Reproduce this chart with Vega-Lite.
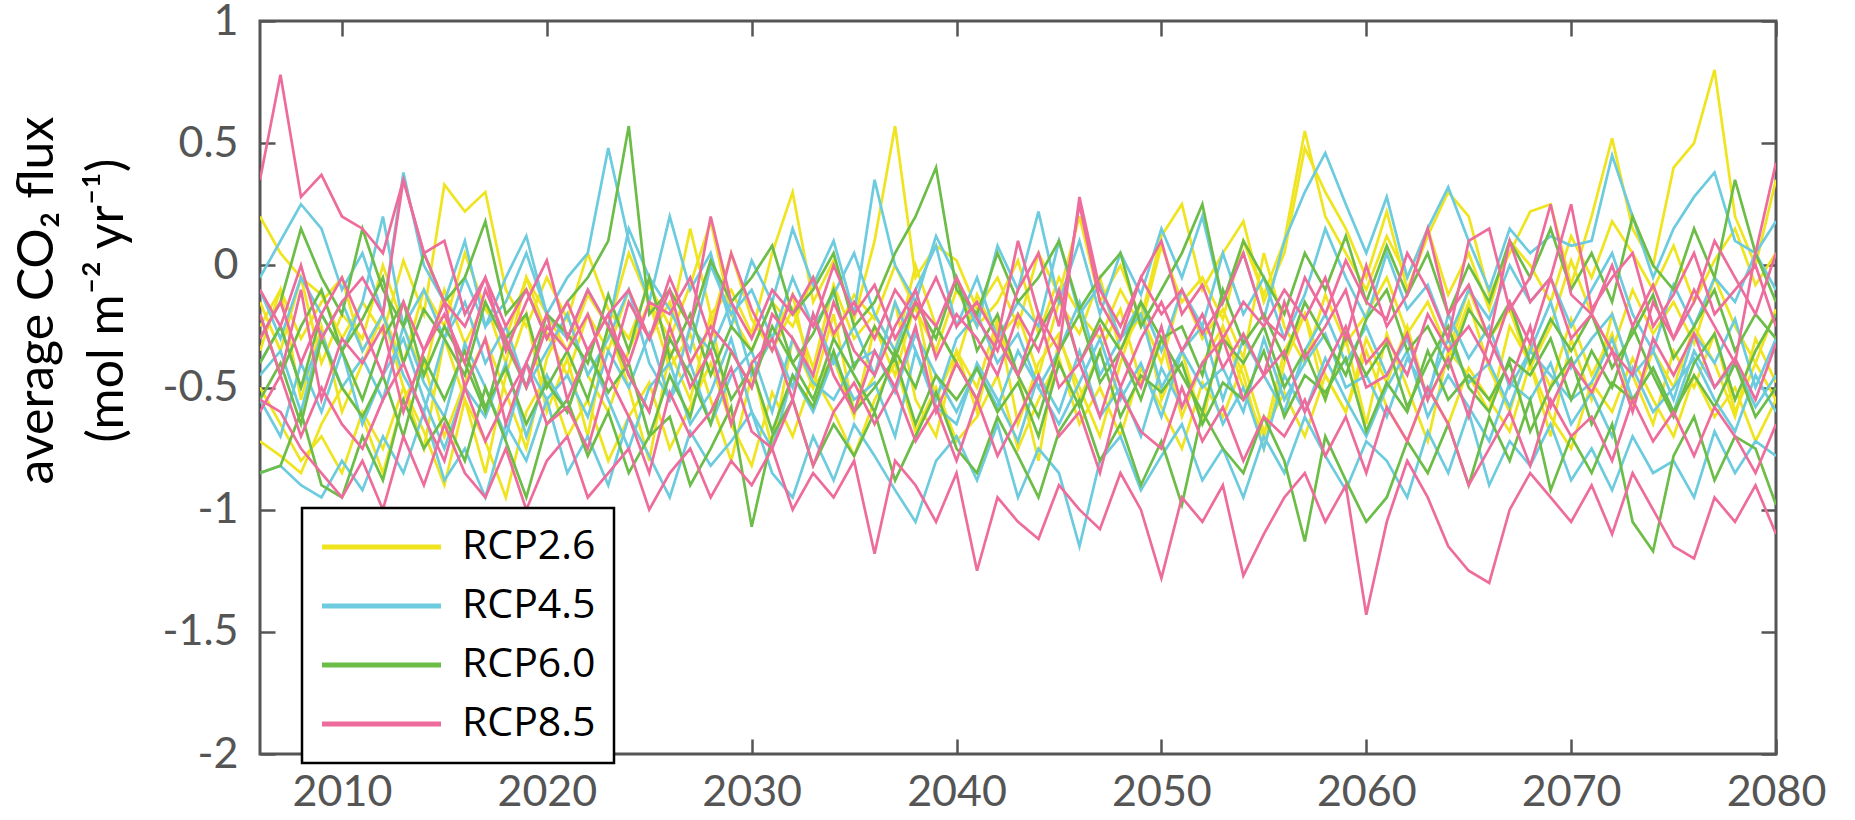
{
"$schema": "https://vega.github.io/schema/vega-lite/v6.json",
"width": 1516, "height": 733,
"autosize": {"type": "none"},
"padding": {"left": 260, "top": 21, "right": 79, "bottom": 66},
"background": "white",
"datasets": {
"rcp26": [
{"m":1,"x":2006,"y":0.20},{"m":1,"x":2007,"y":0.05},{"m":1,"x":2008,"y":-0.05},{"m":1,"x":2009,"y":-0.12},{"m":1,"x":2010,"y":-0.30},
{"m":1,"x":2011,"y":-0.15},{"m":1,"x":2012,"y":-0.28},{"m":1,"x":2013,"y":0.02},{"m":1,"x":2014,"y":-0.20},{"m":1,"x":2015,"y":0.33},
{"m":1,"x":2016,"y":0.22},{"m":1,"x":2017,"y":0.30},{"m":1,"x":2018,"y":-0.10},{"m":1,"x":2019,"y":-0.25},{"m":1,"x":2020,"y":-0.05},
{"m":1,"x":2021,"y":-0.22},{"m":1,"x":2022,"y":0.05},{"m":1,"x":2023,"y":-0.18},{"m":1,"x":2024,"y":-0.30},{"m":1,"x":2025,"y":-0.08},
{"m":1,"x":2026,"y":-0.25},{"m":1,"x":2027,"y":0.15},{"m":1,"x":2028,"y":-0.20},{"m":1,"x":2029,"y":-0.10},{"m":1,"x":2030,"y":-0.28},
{"m":1,"x":2031,"y":0.05},{"m":1,"x":2032,"y":0.30},{"m":1,"x":2033,"y":-0.15},{"m":1,"x":2034,"y":0.02},{"m":1,"x":2035,"y":-0.22},
{"m":1,"x":2036,"y":0.10},{"m":1,"x":2037,"y":0.57},{"m":1,"x":2038,"y":-0.05},{"m":1,"x":2039,"y":0.08},{"m":1,"x":2040,"y":0.02},
{"m":1,"x":2041,"y":-0.18},{"m":1,"x":2042,"y":-0.05},{"m":1,"x":2043,"y":-0.25},{"m":1,"x":2044,"y":0.05},{"m":1,"x":2045,"y":-0.12},
{"m":1,"x":2046,"y":0.20},{"m":1,"x":2047,"y":-0.15},{"m":1,"x":2048,"y":0.00},{"m":1,"x":2049,"y":-0.22},{"m":1,"x":2050,"y":0.12},
{"m":1,"x":2051,"y":0.25},{"m":1,"x":2052,"y":-0.10},{"m":1,"x":2053,"y":0.05},{"m":1,"x":2054,"y":0.18},{"m":1,"x":2055,"y":-0.15},
{"m":1,"x":2056,"y":0.05},{"m":1,"x":2057,"y":0.48},{"m":1,"x":2058,"y":0.30},{"m":1,"x":2059,"y":0.15},{"m":1,"x":2060,"y":-0.05},
{"m":1,"x":2061,"y":0.22},{"m":1,"x":2062,"y":-0.10},{"m":1,"x":2063,"y":0.12},{"m":1,"x":2064,"y":0.30},{"m":1,"x":2065,"y":0.20},
{"m":1,"x":2066,"y":-0.12},{"m":1,"x":2067,"y":0.05},{"m":1,"x":2068,"y":0.22},{"m":1,"x":2069,"y":0.25},{"m":1,"x":2070,"y":-0.08},
{"m":1,"x":2071,"y":0.20},{"m":1,"x":2072,"y":0.52},{"m":1,"x":2073,"y":0.15},{"m":1,"x":2074,"y":0.00},{"m":1,"x":2075,"y":0.40},
{"m":1,"x":2076,"y":0.50},{"m":1,"x":2077,"y":0.80},{"m":1,"x":2078,"y":0.20},{"m":1,"x":2079,"y":0.00},{"m":1,"x":2080,"y":0.35},
{"m":2,"x":2006,"y":-0.72},{"m":2,"x":2007,"y":-0.78},{"m":2,"x":2008,"y":-0.85},{"m":2,"x":2009,"y":-0.65},{"m":2,"x":2010,"y":-0.50},
{"m":2,"x":2011,"y":-0.62},{"m":2,"x":2012,"y":-0.85},{"m":2,"x":2013,"y":-0.55},{"m":2,"x":2014,"y":-0.40},{"m":2,"x":2015,"y":-0.70},
{"m":2,"x":2016,"y":-0.48},{"m":2,"x":2017,"y":-0.30},{"m":2,"x":2018,"y":-0.52},{"m":2,"x":2019,"y":-0.75},{"m":2,"x":2020,"y":-0.38},
{"m":2,"x":2021,"y":-0.20},{"m":2,"x":2022,"y":-0.45},{"m":2,"x":2023,"y":-0.60},{"m":2,"x":2024,"y":-0.35},{"m":2,"x":2025,"y":-0.15},
{"m":2,"x":2026,"y":-0.42},{"m":2,"x":2027,"y":-0.28},{"m":2,"x":2028,"y":-0.55},{"m":2,"x":2029,"y":-0.80},{"m":2,"x":2030,"y":-0.45},
{"m":2,"x":2031,"y":-0.30},{"m":2,"x":2032,"y":-0.12},{"m":2,"x":2033,"y":-0.50},{"m":2,"x":2034,"y":-0.38},{"m":2,"x":2035,"y":-0.62},
{"m":2,"x":2036,"y":-0.25},{"m":2,"x":2037,"y":-0.45},{"m":2,"x":2038,"y":-0.15},{"m":2,"x":2039,"y":-0.55},{"m":2,"x":2040,"y":-0.35},
{"m":2,"x":2041,"y":-0.50},{"m":2,"x":2042,"y":-0.22},{"m":2,"x":2043,"y":-0.65},{"m":2,"x":2044,"y":-0.40},{"m":2,"x":2045,"y":-0.28},
{"m":2,"x":2046,"y":-0.55},{"m":2,"x":2047,"y":-0.35},{"m":2,"x":2048,"y":-0.18},{"m":2,"x":2049,"y":-0.48},{"m":2,"x":2050,"y":-0.30},
{"m":2,"x":2051,"y":-0.62},{"m":2,"x":2052,"y":-0.40},{"m":2,"x":2053,"y":-0.25},{"m":2,"x":2054,"y":-0.50},{"m":2,"x":2055,"y":-0.70},
{"m":2,"x":2056,"y":-0.35},{"m":2,"x":2057,"y":-0.20},{"m":2,"x":2058,"y":-0.45},{"m":2,"x":2059,"y":-0.60},{"m":2,"x":2060,"y":-0.30},
{"m":2,"x":2061,"y":-0.48},{"m":2,"x":2062,"y":-0.25},{"m":2,"x":2063,"y":-0.55},{"m":2,"x":2064,"y":-0.38},{"m":2,"x":2065,"y":-0.15},
{"m":2,"x":2066,"y":-0.42},{"m":2,"x":2067,"y":-0.60},{"m":2,"x":2068,"y":-0.32},{"m":2,"x":2069,"y":-0.50},{"m":2,"x":2070,"y":-0.22},
{"m":2,"x":2071,"y":-0.45},{"m":2,"x":2072,"y":-0.28},{"m":2,"x":2073,"y":-0.58},{"m":2,"x":2074,"y":-0.35},{"m":2,"x":2075,"y":-0.50},
{"m":2,"x":2076,"y":-0.25},{"m":2,"x":2077,"y":-0.40},{"m":2,"x":2078,"y":-0.62},{"m":2,"x":2079,"y":-0.30},{"m":2,"x":2080,"y":-0.48},
{"m":3,"x":2006,"y":-0.35},{"m":3,"x":2007,"y":-0.10},{"m":3,"x":2008,"y":-0.55},{"m":3,"x":2009,"y":-0.25},{"m":3,"x":2010,"y":-0.60},
{"m":3,"x":2011,"y":-0.40},{"m":3,"x":2012,"y":-0.20},{"m":3,"x":2013,"y":-0.50},{"m":3,"x":2014,"y":-0.75},{"m":3,"x":2015,"y":-0.30},
{"m":3,"x":2016,"y":-0.55},{"m":3,"x":2017,"y":-0.85},{"m":3,"x":2018,"y":-0.45},{"m":3,"x":2019,"y":-0.20},{"m":3,"x":2020,"y":-0.60},
{"m":3,"x":2021,"y":-0.38},{"m":3,"x":2022,"y":-0.70},{"m":3,"x":2023,"y":-0.25},{"m":3,"x":2024,"y":-0.50},{"m":3,"x":2025,"y":-0.80},
{"m":3,"x":2026,"y":-0.35},{"m":3,"x":2027,"y":-0.55},{"m":3,"x":2028,"y":-0.20},{"m":3,"x":2029,"y":-0.65},{"m":3,"x":2030,"y":-0.40},
{"m":3,"x":2031,"y":-0.75},{"m":3,"x":2032,"y":-0.30},{"m":3,"x":2033,"y":-0.50},{"m":3,"x":2034,"y":-0.20},{"m":3,"x":2035,"y":-0.60},
{"m":3,"x":2036,"y":-0.45},{"m":3,"x":2037,"y":-0.15},{"m":3,"x":2038,"y":-0.55},{"m":3,"x":2039,"y":-0.70},{"m":3,"x":2040,"y":-0.35},
{"m":3,"x":2041,"y":-0.60},{"m":3,"x":2042,"y":-0.25},{"m":3,"x":2043,"y":-0.45},{"m":3,"x":2044,"y":-0.80},{"m":3,"x":2045,"y":-0.30},
{"m":3,"x":2046,"y":-0.50},{"m":3,"x":2047,"y":-0.70},{"m":3,"x":2048,"y":-0.40},{"m":3,"x":2049,"y":-0.15},{"m":3,"x":2050,"y":-0.55},
{"m":3,"x":2051,"y":-0.35},{"m":3,"x":2052,"y":-0.65},{"m":3,"x":2053,"y":-0.25},{"m":3,"x":2054,"y":-0.45},{"m":3,"x":2055,"y":-0.75},
{"m":3,"x":2056,"y":-0.40},{"m":3,"x":2057,"y":-0.20},{"m":3,"x":2058,"y":-0.55},{"m":3,"x":2059,"y":-0.30},{"m":3,"x":2060,"y":-0.65},
{"m":3,"x":2061,"y":-0.28},{"m":3,"x":2062,"y":-0.50},{"m":3,"x":2063,"y":-0.72},{"m":3,"x":2064,"y":-0.35},{"m":3,"x":2065,"y":-0.45},
{"m":3,"x":2066,"y":-0.60},{"m":3,"x":2067,"y":-0.25},{"m":3,"x":2068,"y":-0.40},{"m":3,"x":2069,"y":-0.70},{"m":3,"x":2070,"y":-0.30},
{"m":3,"x":2071,"y":-0.55},{"m":3,"x":2072,"y":-0.20},{"m":3,"x":2073,"y":-0.45},{"m":3,"x":2074,"y":-0.65},{"m":3,"x":2075,"y":-0.35},
{"m":3,"x":2076,"y":-0.50},{"m":3,"x":2077,"y":-0.28},{"m":3,"x":2078,"y":-0.60},{"m":3,"x":2079,"y":-0.40},{"m":3,"x":2080,"y":-0.55},
{"m":4,"x":2006,"y":-0.15},{"m":4,"x":2007,"y":-0.35},{"m":4,"x":2008,"y":-0.05},{"m":4,"x":2009,"y":-0.40},{"m":4,"x":2010,"y":-0.20},
{"m":4,"x":2011,"y":-0.30},{"m":4,"x":2012,"y":0.00},{"m":4,"x":2013,"y":-0.25},{"m":4,"x":2014,"y":-0.45},{"m":4,"x":2015,"y":-0.10},
{"m":4,"x":2016,"y":-0.32},{"m":4,"x":2017,"y":-0.15},{"m":4,"x":2018,"y":-0.40},{"m":4,"x":2019,"y":-0.05},{"m":4,"x":2020,"y":-0.28},
{"m":4,"x":2021,"y":-0.45},{"m":4,"x":2022,"y":-0.20},{"m":4,"x":2023,"y":-0.35},{"m":4,"x":2024,"y":-0.10},{"m":4,"x":2025,"y":-0.30},
{"m":4,"x":2026,"y":-0.15},{"m":4,"x":2027,"y":-0.40},{"m":4,"x":2028,"y":-0.25},{"m":4,"x":2029,"y":0.05},{"m":4,"x":2030,"y":-0.22},
{"m":4,"x":2031,"y":-0.35},{"m":4,"x":2032,"y":-0.18},{"m":4,"x":2033,"y":-0.42},{"m":4,"x":2034,"y":-0.08},{"m":4,"x":2035,"y":-0.30},
{"m":4,"x":2036,"y":-0.20},{"m":4,"x":2037,"y":-0.35},{"m":4,"x":2038,"y":0.00},{"m":4,"x":2039,"y":-0.25},{"m":4,"x":2040,"y":-0.40},
{"m":4,"x":2041,"y":-0.12},{"m":4,"x":2042,"y":-0.30},{"m":4,"x":2043,"y":-0.20},{"m":4,"x":2044,"y":-0.45},{"m":4,"x":2045,"y":-0.15},
{"m":4,"x":2046,"y":-0.28},{"m":4,"x":2047,"y":-0.05},{"m":4,"x":2048,"y":-0.35},{"m":4,"x":2049,"y":-0.20},{"m":4,"x":2050,"y":-0.40},
{"m":4,"x":2051,"y":-0.10},{"m":4,"x":2052,"y":-0.30},{"m":4,"x":2053,"y":-0.18},{"m":4,"x":2054,"y":-0.38},{"m":4,"x":2055,"y":0.05},
{"m":4,"x":2056,"y":-0.25},{"m":4,"x":2057,"y":-0.40},{"m":4,"x":2058,"y":-0.12},{"m":4,"x":2059,"y":-0.32},{"m":4,"x":2060,"y":-0.20},
{"m":4,"x":2061,"y":-0.05},{"m":4,"x":2062,"y":-0.28},{"m":4,"x":2063,"y":-0.15},{"m":4,"x":2064,"y":-0.35},{"m":4,"x":2065,"y":-0.10},
{"m":4,"x":2066,"y":-0.30},{"m":4,"x":2067,"y":-0.18},{"m":4,"x":2068,"y":-0.42},{"m":4,"x":2069,"y":-0.25},{"m":4,"x":2070,"y":0.02},
{"m":4,"x":2071,"y":-0.20},{"m":4,"x":2072,"y":-0.35},{"m":4,"x":2073,"y":-0.10},{"m":4,"x":2074,"y":-0.28},{"m":4,"x":2075,"y":-0.15},
{"m":4,"x":2076,"y":-0.32},{"m":4,"x":2077,"y":-0.05},{"m":4,"x":2078,"y":-0.25},{"m":4,"x":2079,"y":-0.40},{"m":4,"x":2080,"y":-0.18},
{"m":5,"x":2006,"y":-0.50},{"m":5,"x":2007,"y":-0.65},{"m":5,"x":2008,"y":-0.80},{"m":5,"x":2009,"y":-0.70},{"m":5,"x":2010,"y":-0.85},
{"m":5,"x":2011,"y":-0.60},{"m":5,"x":2012,"y":-0.75},{"m":5,"x":2013,"y":-0.50},{"m":5,"x":2014,"y":-0.68},{"m":5,"x":2015,"y":-0.90},
{"m":5,"x":2016,"y":-0.55},{"m":5,"x":2017,"y":-0.72},{"m":5,"x":2018,"y":-0.95},{"m":5,"x":2019,"y":-0.60},{"m":5,"x":2020,"y":-0.45},
{"m":5,"x":2021,"y":-0.70},{"m":5,"x":2022,"y":-0.55},{"m":5,"x":2023,"y":-0.80},{"m":5,"x":2024,"y":-0.62},{"m":5,"x":2025,"y":-0.48},
{"m":5,"x":2026,"y":-0.75},{"m":5,"x":2027,"y":-0.58},{"m":5,"x":2028,"y":-0.40},{"m":5,"x":2029,"y":-0.65},{"m":5,"x":2030,"y":-0.82},
{"m":5,"x":2031,"y":-0.52},{"m":5,"x":2032,"y":-0.70},{"m":5,"x":2033,"y":-0.45},{"m":5,"x":2034,"y":-0.60},{"m":5,"x":2035,"y":-0.78},
{"m":5,"x":2036,"y":-0.55},{"m":5,"x":2037,"y":-0.40},{"m":5,"x":2038,"y":-0.68},{"m":5,"x":2039,"y":-0.50},{"m":5,"x":2040,"y":-0.72},
{"m":5,"x":2041,"y":-0.62},{"m":5,"x":2042,"y":-0.45},{"m":5,"x":2043,"y":-0.75},{"m":5,"x":2044,"y":-0.55},{"m":5,"x":2045,"y":-0.38},
{"m":5,"x":2046,"y":-0.65},{"m":5,"x":2047,"y":-0.50},{"m":5,"x":2048,"y":-0.70},{"m":5,"x":2049,"y":-0.42},{"m":5,"x":2050,"y":-0.58},
{"m":5,"x":2051,"y":-0.75},{"m":5,"x":2052,"y":-0.48},{"m":5,"x":2053,"y":-0.62},{"m":5,"x":2054,"y":-0.40},{"m":5,"x":2055,"y":-0.68},
{"m":5,"x":2056,"y":-0.52},{"m":5,"x":2057,"y":-0.70},{"m":5,"x":2058,"y":-0.45},{"m":5,"x":2059,"y":-0.60},{"m":5,"x":2060,"y":-0.35},
{"m":5,"x":2061,"y":-0.58},{"m":5,"x":2062,"y":-0.72},{"m":5,"x":2063,"y":-0.50},{"m":5,"x":2064,"y":-0.65},{"m":5,"x":2065,"y":-0.42},
{"m":5,"x":2066,"y":-0.55},{"m":5,"x":2067,"y":-0.68},{"m":5,"x":2068,"y":-0.40},{"m":5,"x":2069,"y":-0.62},{"m":5,"x":2070,"y":-0.75},
{"m":5,"x":2071,"y":-0.48},{"m":5,"x":2072,"y":-0.60},{"m":5,"x":2073,"y":-0.38},{"m":5,"x":2074,"y":-0.55},{"m":5,"x":2075,"y":-0.70},
{"m":5,"x":2076,"y":-0.45},{"m":5,"x":2077,"y":-0.62},{"m":5,"x":2078,"y":-0.50},{"m":5,"x":2079,"y":-0.72},{"m":5,"x":2080,"y":-0.55},
{"m":6,"x":2006,"y":-0.25},{"m":6,"x":2007,"y":-0.10},{"m":6,"x":2008,"y":-0.30},{"m":6,"x":2009,"y":-0.15},{"m":6,"x":2010,"y":-0.05},
{"m":6,"x":2011,"y":-0.35},{"m":6,"x":2012,"y":-0.20},{"m":6,"x":2013,"y":-0.40},{"m":6,"x":2014,"y":-0.10},{"m":6,"x":2015,"y":-0.25},
{"m":6,"x":2016,"y":0.05},{"m":6,"x":2017,"y":-0.18},{"m":6,"x":2018,"y":-0.30},{"m":6,"x":2019,"y":-0.05},{"m":6,"x":2020,"y":-0.20},
{"m":6,"x":2021,"y":-0.35},{"m":6,"x":2022,"y":-0.12},{"m":6,"x":2023,"y":-0.25},{"m":6,"x":2024,"y":0.05},{"m":6,"x":2025,"y":-0.15},
{"m":6,"x":2026,"y":-0.30},{"m":6,"x":2027,"y":-0.08},{"m":6,"x":2028,"y":0.18},{"m":6,"x":2029,"y":-0.20},{"m":6,"x":2030,"y":-0.35},
{"m":6,"x":2031,"y":-0.15},{"m":6,"x":2032,"y":-0.25},{"m":6,"x":2033,"y":-0.05},{"m":6,"x":2034,"y":-0.30},{"m":6,"x":2035,"y":-0.12},
{"m":6,"x":2036,"y":-0.22},{"m":6,"x":2037,"y":0.00},{"m":6,"x":2038,"y":-0.18},{"m":6,"x":2039,"y":-0.35},{"m":6,"x":2040,"y":-0.10},
{"m":6,"x":2041,"y":-0.25},{"m":6,"x":2042,"y":-0.15},{"m":6,"x":2043,"y":0.02},{"m":6,"x":2044,"y":-0.28},{"m":6,"x":2045,"y":-0.05},
{"m":6,"x":2046,"y":-0.20},{"m":6,"x":2047,"y":-0.30},{"m":6,"x":2048,"y":-0.10},{"m":6,"x":2049,"y":-0.25},{"m":6,"x":2050,"y":0.08},
{"m":6,"x":2051,"y":-0.15},{"m":6,"x":2052,"y":-0.05},{"m":6,"x":2053,"y":-0.22},{"m":6,"x":2054,"y":0.10},{"m":6,"x":2055,"y":-0.12},
{"m":6,"x":2056,"y":0.10},{"m":6,"x":2057,"y":0.55},{"m":6,"x":2058,"y":0.20},{"m":6,"x":2059,"y":0.05},{"m":6,"x":2060,"y":-0.10},
{"m":6,"x":2061,"y":0.12},{"m":6,"x":2062,"y":-0.05},{"m":6,"x":2063,"y":0.15},{"m":6,"x":2064,"y":-0.12},{"m":6,"x":2065,"y":0.05},
{"m":6,"x":2066,"y":-0.18},{"m":6,"x":2067,"y":0.10},{"m":6,"x":2068,"y":0.00},{"m":6,"x":2069,"y":-0.15},{"m":6,"x":2070,"y":0.12},
{"m":6,"x":2071,"y":-0.05},{"m":6,"x":2072,"y":0.18},{"m":6,"x":2073,"y":0.05},{"m":6,"x":2074,"y":-0.10},{"m":6,"x":2075,"y":0.08},
{"m":6,"x":2076,"y":-0.15},{"m":6,"x":2077,"y":0.02},{"m":6,"x":2078,"y":0.15},{"m":6,"x":2079,"y":-0.08},{"m":6,"x":2080,"y":0.05}
],
"rcp45": [
{"m":1,"x":2006,"y":-0.05},{"m":1,"x":2007,"y":0.10},{"m":1,"x":2008,"y":0.25},{"m":1,"x":2009,"y":0.15},{"m":1,"x":2010,"y":-0.10},
{"m":1,"x":2011,"y":0.05},{"m":1,"x":2012,"y":-0.20},{"m":1,"x":2013,"y":0.38},{"m":1,"x":2014,"y":0.00},{"m":1,"x":2015,"y":-0.15},
{"m":1,"x":2016,"y":0.10},{"m":1,"x":2017,"y":-0.25},{"m":1,"x":2018,"y":-0.05},{"m":1,"x":2019,"y":0.12},{"m":1,"x":2020,"y":-0.20},
{"m":1,"x":2021,"y":-0.05},{"m":1,"x":2022,"y":0.05},{"m":1,"x":2023,"y":0.48},{"m":1,"x":2024,"y":0.10},{"m":1,"x":2025,"y":-0.15},
{"m":1,"x":2026,"y":0.20},{"m":1,"x":2027,"y":-0.10},{"m":1,"x":2028,"y":0.05},{"m":1,"x":2029,"y":-0.25},{"m":1,"x":2030,"y":0.02},
{"m":1,"x":2031,"y":-0.15},{"m":1,"x":2032,"y":0.15},{"m":1,"x":2033,"y":-0.08},{"m":1,"x":2034,"y":0.10},{"m":1,"x":2035,"y":-0.20},
{"m":1,"x":2036,"y":0.35},{"m":1,"x":2037,"y":0.00},{"m":1,"x":2038,"y":-0.15},{"m":1,"x":2039,"y":0.12},{"m":1,"x":2040,"y":-0.05},
{"m":1,"x":2041,"y":-0.25},{"m":1,"x":2042,"y":0.08},{"m":1,"x":2043,"y":-0.10},{"m":1,"x":2044,"y":0.22},{"m":1,"x":2045,"y":-0.15},
{"m":1,"x":2046,"y":0.10},{"m":1,"x":2047,"y":-0.20},{"m":1,"x":2048,"y":0.05},{"m":1,"x":2049,"y":-0.12},{"m":1,"x":2050,"y":0.15},
{"m":1,"x":2051,"y":-0.05},{"m":1,"x":2052,"y":0.20},{"m":1,"x":2053,"y":-0.15},{"m":1,"x":2054,"y":0.05},{"m":1,"x":2055,"y":-0.22},
{"m":1,"x":2056,"y":0.10},{"m":1,"x":2057,"y":0.30},{"m":1,"x":2058,"y":0.46},{"m":1,"x":2059,"y":0.25},{"m":1,"x":2060,"y":0.05},
{"m":1,"x":2061,"y":0.28},{"m":1,"x":2062,"y":-0.05},{"m":1,"x":2063,"y":0.15},{"m":1,"x":2064,"y":0.32},{"m":1,"x":2065,"y":0.10},
{"m":1,"x":2066,"y":-0.10},{"m":1,"x":2067,"y":0.15},{"m":1,"x":2068,"y":0.05},{"m":1,"x":2069,"y":0.12},{"m":1,"x":2070,"y":0.08},
{"m":1,"x":2071,"y":0.10},{"m":1,"x":2072,"y":0.45},{"m":1,"x":2073,"y":0.20},{"m":1,"x":2074,"y":-0.05},{"m":1,"x":2075,"y":0.15},
{"m":1,"x":2076,"y":0.28},{"m":1,"x":2077,"y":0.38},{"m":1,"x":2078,"y":0.10},{"m":1,"x":2079,"y":0.05},{"m":1,"x":2080,"y":0.18},
{"m":2,"x":2006,"y":-0.40},{"m":2,"x":2007,"y":-0.25},{"m":2,"x":2008,"y":-0.50},{"m":2,"x":2009,"y":-0.30},{"m":2,"x":2010,"y":-0.15},
{"m":2,"x":2011,"y":-0.35},{"m":2,"x":2012,"y":-0.20},{"m":2,"x":2013,"y":-0.45},{"m":2,"x":2014,"y":-0.60},{"m":2,"x":2015,"y":-0.30},
{"m":2,"x":2016,"y":-0.15},{"m":2,"x":2017,"y":-0.40},{"m":2,"x":2018,"y":-0.25},{"m":2,"x":2019,"y":-0.50},{"m":2,"x":2020,"y":-0.35},
{"m":2,"x":2021,"y":-0.20},{"m":2,"x":2022,"y":-0.45},{"m":2,"x":2023,"y":-0.30},{"m":2,"x":2024,"y":-0.10},{"m":2,"x":2025,"y":-0.40},
{"m":2,"x":2026,"y":-0.55},{"m":2,"x":2027,"y":-0.25},{"m":2,"x":2028,"y":-0.35},{"m":2,"x":2029,"y":-0.15},{"m":2,"x":2030,"y":-0.45},
{"m":2,"x":2031,"y":-0.30},{"m":2,"x":2032,"y":-0.50},{"m":2,"x":2033,"y":-0.20},{"m":2,"x":2034,"y":-0.40},{"m":2,"x":2035,"y":-0.25},
{"m":2,"x":2036,"y":-0.45},{"m":2,"x":2037,"y":-0.15},{"m":2,"x":2038,"y":-0.35},{"m":2,"x":2039,"y":-0.55},{"m":2,"x":2040,"y":-0.30},
{"m":2,"x":2041,"y":-0.20},{"m":2,"x":2042,"y":-0.40},{"m":2,"x":2043,"y":-0.28},{"m":2,"x":2044,"y":-0.50},{"m":2,"x":2045,"y":-0.35},
{"m":2,"x":2046,"y":-0.15},{"m":2,"x":2047,"y":-0.45},{"m":2,"x":2048,"y":-0.30},{"m":2,"x":2049,"y":-0.20},{"m":2,"x":2050,"y":-0.50},
{"m":2,"x":2051,"y":-0.35},{"m":2,"x":2052,"y":-0.25},{"m":2,"x":2053,"y":-0.55},{"m":2,"x":2054,"y":-0.30},{"m":2,"x":2055,"y":-0.45},
{"m":2,"x":2056,"y":-0.60},{"m":2,"x":2057,"y":-0.35},{"m":2,"x":2058,"y":-0.20},{"m":2,"x":2059,"y":-0.40},{"m":2,"x":2060,"y":-0.25},
{"m":2,"x":2061,"y":-0.45},{"m":2,"x":2062,"y":-0.30},{"m":2,"x":2063,"y":-0.55},{"m":2,"x":2064,"y":-0.20},{"m":2,"x":2065,"y":-0.38},
{"m":2,"x":2066,"y":-0.25},{"m":2,"x":2067,"y":-0.50},{"m":2,"x":2068,"y":-0.35},{"m":2,"x":2069,"y":-0.15},{"m":2,"x":2070,"y":-0.42},
{"m":2,"x":2071,"y":-0.30},{"m":2,"x":2072,"y":-0.20},{"m":2,"x":2073,"y":-0.45},{"m":2,"x":2074,"y":-0.35},{"m":2,"x":2075,"y":-0.55},
{"m":2,"x":2076,"y":-0.28},{"m":2,"x":2077,"y":-0.40},{"m":2,"x":2078,"y":-0.22},{"m":2,"x":2079,"y":-0.50},{"m":2,"x":2080,"y":-0.30},
{"m":3,"x":2006,"y":-0.55},{"m":3,"x":2007,"y":-0.70},{"m":3,"x":2008,"y":-0.40},{"m":3,"x":2009,"y":-0.60},{"m":3,"x":2010,"y":-0.35},
{"m":3,"x":2011,"y":-0.65},{"m":3,"x":2012,"y":-0.45},{"m":3,"x":2013,"y":-0.30},{"m":3,"x":2014,"y":-0.55},{"m":3,"x":2015,"y":-0.75},
{"m":3,"x":2016,"y":-0.50},{"m":3,"x":2017,"y":-0.62},{"m":3,"x":2018,"y":-0.40},{"m":3,"x":2019,"y":-0.70},{"m":3,"x":2020,"y":-0.45},
{"m":3,"x":2021,"y":-0.60},{"m":3,"x":2022,"y":-0.35},{"m":3,"x":2023,"y":-0.55},{"m":3,"x":2024,"y":-0.75},{"m":3,"x":2025,"y":-0.50},
{"m":3,"x":2026,"y":-0.40},{"m":3,"x":2027,"y":-0.65},{"m":3,"x":2028,"y":-0.52},{"m":3,"x":2029,"y":-0.30},{"m":3,"x":2030,"y":-0.60},
{"m":3,"x":2031,"y":-0.75},{"m":3,"x":2032,"y":-0.45},{"m":3,"x":2033,"y":-0.60},{"m":3,"x":2034,"y":-0.38},{"m":3,"x":2035,"y":-0.55},
{"m":3,"x":2036,"y":-0.48},{"m":3,"x":2037,"y":-0.70},{"m":3,"x":2038,"y":-0.35},{"m":3,"x":2039,"y":-0.58},{"m":3,"x":2040,"y":-0.65},
{"m":3,"x":2041,"y":-0.40},{"m":3,"x":2042,"y":-0.55},{"m":3,"x":2043,"y":-0.72},{"m":3,"x":2044,"y":-0.45},{"m":3,"x":2045,"y":-0.60},
{"m":3,"x":2046,"y":-0.35},{"m":3,"x":2047,"y":-0.62},{"m":3,"x":2048,"y":-0.50},{"m":3,"x":2049,"y":-0.70},{"m":3,"x":2050,"y":-0.42},
{"m":3,"x":2051,"y":-0.58},{"m":3,"x":2052,"y":-0.40},{"m":3,"x":2053,"y":-0.65},{"m":3,"x":2054,"y":-0.50},{"m":3,"x":2055,"y":-0.75},
{"m":3,"x":2056,"y":-0.45},{"m":3,"x":2057,"y":-0.60},{"m":3,"x":2058,"y":-0.38},{"m":3,"x":2059,"y":-0.55},{"m":3,"x":2060,"y":-0.70},
{"m":3,"x":2061,"y":-0.50},{"m":3,"x":2062,"y":-0.35},{"m":3,"x":2063,"y":-0.62},{"m":3,"x":2064,"y":-0.45},{"m":3,"x":2065,"y":-0.58},
{"m":3,"x":2066,"y":-0.72},{"m":3,"x":2067,"y":-0.48},{"m":3,"x":2068,"y":-0.55},{"m":3,"x":2069,"y":-0.40},{"m":3,"x":2070,"y":-0.65},
{"m":3,"x":2071,"y":-0.52},{"m":3,"x":2072,"y":-0.70},{"m":3,"x":2073,"y":-0.42},{"m":3,"x":2074,"y":-0.60},{"m":3,"x":2075,"y":-0.50},
{"m":3,"x":2076,"y":-0.38},{"m":3,"x":2077,"y":-0.55},{"m":3,"x":2078,"y":-0.68},{"m":3,"x":2079,"y":-0.45},{"m":3,"x":2080,"y":-0.60},
{"m":4,"x":2006,"y":-0.85},{"m":4,"x":2007,"y":-0.82},{"m":4,"x":2008,"y":-0.90},{"m":4,"x":2009,"y":-0.95},{"m":4,"x":2010,"y":-0.80},
{"m":4,"x":2011,"y":-0.92},{"m":4,"x":2012,"y":-0.70},{"m":4,"x":2013,"y":-0.85},{"m":4,"x":2014,"y":-0.60},{"m":4,"x":2015,"y":-0.88},
{"m":4,"x":2016,"y":-0.75},{"m":4,"x":2017,"y":-0.95},{"m":4,"x":2018,"y":-0.65},{"m":4,"x":2019,"y":-0.80},{"m":4,"x":2020,"y":-0.55},
{"m":4,"x":2021,"y":-0.85},{"m":4,"x":2022,"y":-0.70},{"m":4,"x":2023,"y":-0.90},{"m":4,"x":2024,"y":-0.62},{"m":4,"x":2025,"y":-0.78},
{"m":4,"x":2026,"y":-0.95},{"m":4,"x":2027,"y":-0.68},{"m":4,"x":2028,"y":-0.82},{"m":4,"x":2029,"y":-0.72},{"m":4,"x":2030,"y":-0.60},
{"m":4,"x":2031,"y":-0.85},{"m":4,"x":2032,"y":-0.95},{"m":4,"x":2033,"y":-0.70},{"m":4,"x":2034,"y":-0.88},{"m":4,"x":2035,"y":-0.65},
{"m":4,"x":2036,"y":-0.78},{"m":4,"x":2037,"y":-0.92},{"m":4,"x":2038,"y":-1.05},{"m":4,"x":2039,"y":-0.80},{"m":4,"x":2040,"y":-0.70},
{"m":4,"x":2041,"y":-0.88},{"m":4,"x":2042,"y":-0.65},{"m":4,"x":2043,"y":-0.95},{"m":4,"x":2044,"y":-0.75},{"m":4,"x":2045,"y":-0.85},
{"m":4,"x":2046,"y":-1.15},{"m":4,"x":2047,"y":-0.80},{"m":4,"x":2048,"y":-0.70},{"m":4,"x":2049,"y":-0.92},{"m":4,"x":2050,"y":-0.78},
{"m":4,"x":2051,"y":-0.65},{"m":4,"x":2052,"y":-0.88},{"m":4,"x":2053,"y":-0.75},{"m":4,"x":2054,"y":-0.95},{"m":4,"x":2055,"y":-0.70},
{"m":4,"x":2056,"y":-0.85},{"m":4,"x":2057,"y":-0.62},{"m":4,"x":2058,"y":-0.78},{"m":4,"x":2059,"y":-0.92},{"m":4,"x":2060,"y":-0.72},
{"m":4,"x":2061,"y":-0.80},{"m":4,"x":2062,"y":-0.95},{"m":4,"x":2063,"y":-0.68},{"m":4,"x":2064,"y":-0.85},{"m":4,"x":2065,"y":-0.60},
{"m":4,"x":2066,"y":-0.90},{"m":4,"x":2067,"y":-0.72},{"m":4,"x":2068,"y":-0.82},{"m":4,"x":2069,"y":-0.65},{"m":4,"x":2070,"y":-0.88},
{"m":4,"x":2071,"y":-0.75},{"m":4,"x":2072,"y":-0.92},{"m":4,"x":2073,"y":-0.70},{"m":4,"x":2074,"y":-0.85},{"m":4,"x":2075,"y":-0.80},
{"m":4,"x":2076,"y":-0.95},{"m":4,"x":2077,"y":-0.68},{"m":4,"x":2078,"y":-0.85},{"m":4,"x":2079,"y":-0.72},{"m":4,"x":2080,"y":-0.78},
{"m":5,"x":2006,"y":-0.10},{"m":5,"x":2007,"y":-0.30},{"m":5,"x":2008,"y":-0.05},{"m":5,"x":2009,"y":-0.20},{"m":5,"x":2010,"y":-0.35},
{"m":5,"x":2011,"y":-0.15},{"m":5,"x":2012,"y":0.20},{"m":5,"x":2013,"y":-0.25},{"m":5,"x":2014,"y":-0.10},{"m":5,"x":2015,"y":-0.30},
{"m":5,"x":2016,"y":-0.05},{"m":5,"x":2017,"y":-0.25},{"m":5,"x":2018,"y":-0.15},{"m":5,"x":2019,"y":0.05},{"m":5,"x":2020,"y":-0.20},
{"m":5,"x":2021,"y":-0.30},{"m":5,"x":2022,"y":-0.10},{"m":5,"x":2023,"y":-0.25},{"m":5,"x":2024,"y":0.15},{"m":5,"x":2025,"y":-0.05},
{"m":5,"x":2026,"y":-0.18},{"m":5,"x":2027,"y":-0.35},{"m":5,"x":2028,"y":0.00},{"m":5,"x":2029,"y":-0.20},{"m":5,"x":2030,"y":-0.10},
{"m":5,"x":2031,"y":-0.30},{"m":5,"x":2032,"y":-0.05},{"m":5,"x":2033,"y":-0.25},{"m":5,"x":2034,"y":-0.12},{"m":5,"x":2035,"y":0.05},
{"m":5,"x":2036,"y":-0.20},{"m":5,"x":2037,"y":-0.35},{"m":5,"x":2038,"y":-0.10},{"m":5,"x":2039,"y":0.08},{"m":5,"x":2040,"y":-0.25},
{"m":5,"x":2041,"y":-0.05},{"m":5,"x":2042,"y":-0.30},{"m":5,"x":2043,"y":-0.15},{"m":5,"x":2044,"y":-0.25},{"m":5,"x":2045,"y":0.10},
{"m":5,"x":2046,"y":-0.20},{"m":5,"x":2047,"y":-0.08},{"m":5,"x":2048,"y":-0.30},{"m":5,"x":2049,"y":-0.15},{"m":5,"x":2050,"y":-0.35},
{"m":5,"x":2051,"y":-0.10},{"m":5,"x":2052,"y":-0.25},{"m":5,"x":2053,"y":0.05},{"m":5,"x":2054,"y":-0.20},{"m":5,"x":2055,"y":-0.05},
{"m":5,"x":2056,"y":-0.30},{"m":5,"x":2057,"y":-0.12},{"m":5,"x":2058,"y":0.15},{"m":5,"x":2059,"y":-0.05},{"m":5,"x":2060,"y":-0.22},
{"m":5,"x":2061,"y":0.05},{"m":5,"x":2062,"y":-0.18},{"m":5,"x":2063,"y":-0.08},{"m":5,"x":2064,"y":-0.30},{"m":5,"x":2065,"y":-0.10},
{"m":5,"x":2066,"y":-0.22},{"m":5,"x":2067,"y":0.00},{"m":5,"x":2068,"y":-0.15},{"m":5,"x":2069,"y":-0.05},{"m":5,"x":2070,"y":-0.25},
{"m":5,"x":2071,"y":-0.10},{"m":5,"x":2072,"y":0.05},{"m":5,"x":2073,"y":-0.20},{"m":5,"x":2074,"y":-0.35},{"m":5,"x":2075,"y":-0.08},
{"m":5,"x":2076,"y":-0.25},{"m":5,"x":2077,"y":-0.05},{"m":5,"x":2078,"y":-0.15},{"m":5,"x":2079,"y":0.05},{"m":5,"x":2080,"y":-0.10},
{"m":6,"x":2006,"y":-0.45},{"m":6,"x":2007,"y":-0.35},{"m":6,"x":2008,"y":-0.60},{"m":6,"x":2009,"y":-0.28},{"m":6,"x":2010,"y":-0.50},
{"m":6,"x":2011,"y":-0.38},{"m":6,"x":2012,"y":-0.55},{"m":6,"x":2013,"y":-0.25},{"m":6,"x":2014,"y":-0.48},{"m":6,"x":2015,"y":-0.62},
{"m":6,"x":2016,"y":-0.32},{"m":6,"x":2017,"y":-0.50},{"m":6,"x":2018,"y":-0.70},{"m":6,"x":2019,"y":-0.40},{"m":6,"x":2020,"y":-0.55},
{"m":6,"x":2021,"y":-0.45},{"m":6,"x":2022,"y":-0.62},{"m":6,"x":2023,"y":-0.35},{"m":6,"x":2024,"y":-0.50},{"m":6,"x":2025,"y":-0.28},
{"m":6,"x":2026,"y":-0.55},{"m":6,"x":2027,"y":-0.40},{"m":6,"x":2028,"y":-0.65},{"m":6,"x":2029,"y":-0.45},{"m":6,"x":2030,"y":-0.35},
{"m":6,"x":2031,"y":-0.60},{"m":6,"x":2032,"y":-0.30},{"m":6,"x":2033,"y":-0.48},{"m":6,"x":2034,"y":-0.55},{"m":6,"x":2035,"y":-0.40},
{"m":6,"x":2036,"y":-0.35},{"m":6,"x":2037,"y":-0.52},{"m":6,"x":2038,"y":-0.28},{"m":6,"x":2039,"y":-0.45},{"m":6,"x":2040,"y":-0.60},
{"m":6,"x":2041,"y":-0.42},{"m":6,"x":2042,"y":-0.58},{"m":6,"x":2043,"y":-0.35},{"m":6,"x":2044,"y":-0.50},{"m":6,"x":2045,"y":-0.65},
{"m":6,"x":2046,"y":-0.48},{"m":6,"x":2047,"y":-0.30},{"m":6,"x":2048,"y":-0.55},{"m":6,"x":2049,"y":-0.40},{"m":6,"x":2050,"y":-0.62},
{"m":6,"x":2051,"y":-0.35},{"m":6,"x":2052,"y":-0.50},{"m":6,"x":2053,"y":-0.42},{"m":6,"x":2054,"y":-0.60},{"m":6,"x":2055,"y":-0.30},
{"m":6,"x":2056,"y":-0.55},{"m":6,"x":2057,"y":-0.40},{"m":6,"x":2058,"y":-0.28},{"m":6,"x":2059,"y":-0.50},{"m":6,"x":2060,"y":-0.45},
{"m":6,"x":2061,"y":-0.62},{"m":6,"x":2062,"y":-0.38},{"m":6,"x":2063,"y":-0.52},{"m":6,"x":2064,"y":-0.30},{"m":6,"x":2065,"y":-0.48},
{"m":6,"x":2066,"y":-0.40},{"m":6,"x":2067,"y":-0.58},{"m":6,"x":2068,"y":-0.35},{"m":6,"x":2069,"y":-0.45},{"m":6,"x":2070,"y":-0.55},
{"m":6,"x":2071,"y":-0.48},{"m":6,"x":2072,"y":-0.30},{"m":6,"x":2073,"y":-0.55},{"m":6,"x":2074,"y":-0.42},{"m":6,"x":2075,"y":-0.60},
{"m":6,"x":2076,"y":-0.35},{"m":6,"x":2077,"y":-0.50},{"m":6,"x":2078,"y":-0.40},{"m":6,"x":2079,"y":-0.58},{"m":6,"x":2080,"y":-0.45}
],
"rcp60": [
{"m":1,"x":2006,"y":-0.30},{"m":1,"x":2007,"y":-0.15},{"m":1,"x":2008,"y":0.15},{"m":1,"x":2009,"y":-0.05},{"m":1,"x":2010,"y":-0.20},
{"m":1,"x":2011,"y":0.15},{"m":1,"x":2012,"y":-0.10},{"m":1,"x":2013,"y":-0.25},{"m":1,"x":2014,"y":0.05},{"m":1,"x":2015,"y":-0.15},
{"m":1,"x":2016,"y":-0.05},{"m":1,"x":2017,"y":0.18},{"m":1,"x":2018,"y":-0.20},{"m":1,"x":2019,"y":-0.10},{"m":1,"x":2020,"y":-0.30},
{"m":1,"x":2021,"y":-0.15},{"m":1,"x":2022,"y":-0.05},{"m":1,"x":2023,"y":0.10},{"m":1,"x":2024,"y":0.57},{"m":1,"x":2025,"y":-0.20},
{"m":1,"x":2026,"y":-0.10},{"m":1,"x":2027,"y":-0.25},{"m":1,"x":2028,"y":0.02},{"m":1,"x":2029,"y":-0.15},{"m":1,"x":2030,"y":-0.05},
{"m":1,"x":2031,"y":0.08},{"m":1,"x":2032,"y":-0.20},{"m":1,"x":2033,"y":-0.10},{"m":1,"x":2034,"y":0.05},{"m":1,"x":2035,"y":-0.25},
{"m":1,"x":2036,"y":-0.15},{"m":1,"x":2037,"y":0.05},{"m":1,"x":2038,"y":0.20},{"m":1,"x":2039,"y":0.40},{"m":1,"x":2040,"y":-0.10},
{"m":1,"x":2041,"y":-0.20},{"m":1,"x":2042,"y":0.05},{"m":1,"x":2043,"y":-0.15},{"m":1,"x":2044,"y":-0.05},{"m":1,"x":2045,"y":0.10},
{"m":1,"x":2046,"y":-0.18},{"m":1,"x":2047,"y":-0.05},{"m":1,"x":2048,"y":0.05},{"m":1,"x":2049,"y":-0.25},{"m":1,"x":2050,"y":-0.10},
{"m":1,"x":2051,"y":0.05},{"m":1,"x":2052,"y":0.25},{"m":1,"x":2053,"y":-0.15},{"m":1,"x":2054,"y":0.10},{"m":1,"x":2055,"y":-0.05},
{"m":1,"x":2056,"y":-0.20},{"m":1,"x":2057,"y":0.05},{"m":1,"x":2058,"y":-0.10},{"m":1,"x":2059,"y":0.12},{"m":1,"x":2060,"y":-0.15},
{"m":1,"x":2061,"y":0.08},{"m":1,"x":2062,"y":-0.12},{"m":1,"x":2063,"y":0.05},{"m":1,"x":2064,"y":-0.20},{"m":1,"x":2065,"y":0.00},
{"m":1,"x":2066,"y":-0.15},{"m":1,"x":2067,"y":0.10},{"m":1,"x":2068,"y":-0.05},{"m":1,"x":2069,"y":0.15},{"m":1,"x":2070,"y":-0.10},
{"m":1,"x":2071,"y":0.05},{"m":1,"x":2072,"y":-0.15},{"m":1,"x":2073,"y":0.20},{"m":1,"x":2074,"y":0.00},{"m":1,"x":2075,"y":-0.10},
{"m":1,"x":2076,"y":0.15},{"m":1,"x":2077,"y":-0.05},{"m":1,"x":2078,"y":0.35},{"m":1,"x":2079,"y":0.05},{"m":1,"x":2080,"y":-0.15},
{"m":2,"x":2006,"y":-0.40},{"m":2,"x":2007,"y":-0.25},{"m":2,"x":2008,"y":-0.50},{"m":2,"x":2009,"y":-0.20},{"m":2,"x":2010,"y":-0.35},
{"m":2,"x":2011,"y":-0.55},{"m":2,"x":2012,"y":-0.30},{"m":2,"x":2013,"y":-0.15},{"m":2,"x":2014,"y":-0.45},{"m":2,"x":2015,"y":-0.25},
{"m":2,"x":2016,"y":-0.40},{"m":2,"x":2017,"y":-0.60},{"m":2,"x":2018,"y":-0.30},{"m":2,"x":2019,"y":-0.20},{"m":2,"x":2020,"y":-0.50},
{"m":2,"x":2021,"y":-0.35},{"m":2,"x":2022,"y":-0.55},{"m":2,"x":2023,"y":-0.25},{"m":2,"x":2024,"y":-0.45},{"m":2,"x":2025,"y":-0.60},
{"m":2,"x":2026,"y":-0.30},{"m":2,"x":2027,"y":-0.45},{"m":2,"x":2028,"y":-0.65},{"m":2,"x":2029,"y":-0.35},{"m":2,"x":2030,"y":-0.50},
{"m":2,"x":2031,"y":-0.25},{"m":2,"x":2032,"y":-0.40},{"m":2,"x":2033,"y":-0.55},{"m":2,"x":2034,"y":-0.30},{"m":2,"x":2035,"y":-0.45},
{"m":2,"x":2036,"y":-0.60},{"m":2,"x":2037,"y":-0.35},{"m":2,"x":2038,"y":-0.50},{"m":2,"x":2039,"y":-0.25},{"m":2,"x":2040,"y":-0.40},
{"m":2,"x":2041,"y":-0.55},{"m":2,"x":2042,"y":-0.30},{"m":2,"x":2043,"y":-0.45},{"m":2,"x":2044,"y":-0.62},{"m":2,"x":2045,"y":-0.35},
{"m":2,"x":2046,"y":-0.20},{"m":2,"x":2047,"y":-0.48},{"m":2,"x":2048,"y":-0.35},{"m":2,"x":2049,"y":-0.55},{"m":2,"x":2050,"y":-0.30},
{"m":2,"x":2051,"y":-0.45},{"m":2,"x":2052,"y":-0.60},{"m":2,"x":2053,"y":-0.30},{"m":2,"x":2054,"y":-0.40},{"m":2,"x":2055,"y":-0.25},
{"m":2,"x":2056,"y":-0.50},{"m":2,"x":2057,"y":-0.35},{"m":2,"x":2058,"y":-0.55},{"m":2,"x":2059,"y":-0.28},{"m":2,"x":2060,"y":-0.45},
{"m":2,"x":2061,"y":-0.32},{"m":2,"x":2062,"y":-0.58},{"m":2,"x":2063,"y":-0.40},{"m":2,"x":2064,"y":-0.25},{"m":2,"x":2065,"y":-0.50},
{"m":2,"x":2066,"y":-0.60},{"m":2,"x":2067,"y":-0.38},{"m":2,"x":2068,"y":-0.45},{"m":2,"x":2069,"y":-0.30},{"m":2,"x":2070,"y":-0.55},
{"m":2,"x":2071,"y":-0.35},{"m":2,"x":2072,"y":-0.50},{"m":2,"x":2073,"y":-0.25},{"m":2,"x":2074,"y":-0.45},{"m":2,"x":2075,"y":-0.62},
{"m":2,"x":2076,"y":-0.40},{"m":2,"x":2077,"y":-0.28},{"m":2,"x":2078,"y":-0.55},{"m":2,"x":2079,"y":-0.35},{"m":2,"x":2080,"y":-0.20},
{"m":3,"x":2006,"y":-0.85},{"m":3,"x":2007,"y":-0.82},{"m":3,"x":2008,"y":-0.60},{"m":3,"x":2009,"y":-0.90},{"m":3,"x":2010,"y":-0.95},
{"m":3,"x":2011,"y":-0.70},{"m":3,"x":2012,"y":-0.88},{"m":3,"x":2013,"y":-0.55},{"m":3,"x":2014,"y":-0.75},{"m":3,"x":2015,"y":-0.62},
{"m":3,"x":2016,"y":-0.80},{"m":3,"x":2017,"y":-0.50},{"m":3,"x":2018,"y":-0.72},{"m":3,"x":2019,"y":-0.95},{"m":3,"x":2020,"y":-0.65},
{"m":3,"x":2021,"y":-0.55},{"m":3,"x":2022,"y":-0.78},{"m":3,"x":2023,"y":-0.60},{"m":3,"x":2024,"y":-0.85},{"m":3,"x":2025,"y":-0.70},
{"m":3,"x":2026,"y":-0.62},{"m":3,"x":2027,"y":-0.90},{"m":3,"x":2028,"y":-0.75},{"m":3,"x":2029,"y":-0.58},{"m":3,"x":2030,"y":-1.07},
{"m":3,"x":2031,"y":-0.70},{"m":3,"x":2032,"y":-0.55},{"m":3,"x":2033,"y":-0.82},{"m":3,"x":2034,"y":-0.65},{"m":3,"x":2035,"y":-0.78},
{"m":3,"x":2036,"y":-0.60},{"m":3,"x":2037,"y":-0.88},{"m":3,"x":2038,"y":-0.70},{"m":3,"x":2039,"y":-0.52},{"m":3,"x":2040,"y":-0.75},
{"m":3,"x":2041,"y":-0.85},{"m":3,"x":2042,"y":-0.62},{"m":3,"x":2043,"y":-0.78},{"m":3,"x":2044,"y":-0.95},{"m":3,"x":2045,"y":-0.68},
{"m":3,"x":2046,"y":-0.55},{"m":3,"x":2047,"y":-0.80},{"m":3,"x":2048,"y":-0.65},{"m":3,"x":2049,"y":-0.90},{"m":3,"x":2050,"y":-0.72},
{"m":3,"x":2051,"y":-0.98},{"m":3,"x":2052,"y":-0.60},{"m":3,"x":2053,"y":-0.75},{"m":3,"x":2054,"y":-0.85},{"m":3,"x":2055,"y":-0.62},
{"m":3,"x":2056,"y":-0.80},{"m":3,"x":2057,"y":-1.13},{"m":3,"x":2058,"y":-0.70},{"m":3,"x":2059,"y":-0.88},{"m":3,"x":2060,"y":-1.05},
{"m":3,"x":2061,"y":-0.95},{"m":3,"x":2062,"y":-0.72},{"m":3,"x":2063,"y":-0.85},{"m":3,"x":2064,"y":-0.65},{"m":3,"x":2065,"y":-0.90},
{"m":3,"x":2066,"y":-0.62},{"m":3,"x":2067,"y":-0.80},{"m":3,"x":2068,"y":-0.55},{"m":3,"x":2069,"y":-0.92},{"m":3,"x":2070,"y":-0.70},
{"m":3,"x":2071,"y":-0.85},{"m":3,"x":2072,"y":-0.65},{"m":3,"x":2073,"y":-1.05},{"m":3,"x":2074,"y":-1.17},{"m":3,"x":2075,"y":-0.78},
{"m":3,"x":2076,"y":-0.62},{"m":3,"x":2077,"y":-0.88},{"m":3,"x":2078,"y":-0.70},{"m":3,"x":2079,"y":-0.75},{"m":3,"x":2080,"y":-0.98},
{"m":4,"x":2006,"y":-0.20},{"m":4,"x":2007,"y":-0.45},{"m":4,"x":2008,"y":-0.25},{"m":4,"x":2009,"y":-0.10},{"m":4,"x":2010,"y":-0.35},
{"m":4,"x":2011,"y":-0.22},{"m":4,"x":2012,"y":-0.05},{"m":4,"x":2013,"y":-0.40},{"m":4,"x":2014,"y":-0.18},{"m":4,"x":2015,"y":-0.30},
{"m":4,"x":2016,"y":-0.45},{"m":4,"x":2017,"y":-0.15},{"m":4,"x":2018,"y":-0.32},{"m":4,"x":2019,"y":-0.50},{"m":4,"x":2020,"y":-0.20},
{"m":4,"x":2021,"y":-0.28},{"m":4,"x":2022,"y":-0.40},{"m":4,"x":2023,"y":-0.12},{"m":4,"x":2024,"y":-0.35},{"m":4,"x":2025,"y":-0.05},
{"m":4,"x":2026,"y":-0.38},{"m":4,"x":2027,"y":-0.20},{"m":4,"x":2028,"y":-0.45},{"m":4,"x":2029,"y":-0.25},{"m":4,"x":2030,"y":-0.35},
{"m":4,"x":2031,"y":-0.15},{"m":4,"x":2032,"y":-0.40},{"m":4,"x":2033,"y":-0.28},{"m":4,"x":2034,"y":-0.10},{"m":4,"x":2035,"y":-0.42},
{"m":4,"x":2036,"y":-0.25},{"m":4,"x":2037,"y":-0.38},{"m":4,"x":2038,"y":-0.15},{"m":4,"x":2039,"y":-0.30},{"m":4,"x":2040,"y":-0.05},
{"m":4,"x":2041,"y":-0.35},{"m":4,"x":2042,"y":-0.20},{"m":4,"x":2043,"y":-0.45},{"m":4,"x":2044,"y":-0.28},{"m":4,"x":2045,"y":-0.12},
{"m":4,"x":2046,"y":-0.40},{"m":4,"x":2047,"y":-0.22},{"m":4,"x":2048,"y":-0.35},{"m":4,"x":2049,"y":-0.15},{"m":4,"x":2050,"y":-0.30},
{"m":4,"x":2051,"y":-0.25},{"m":4,"x":2052,"y":-0.45},{"m":4,"x":2053,"y":-0.10},{"m":4,"x":2054,"y":-0.32},{"m":4,"x":2055,"y":-0.20},
{"m":4,"x":2056,"y":-0.38},{"m":4,"x":2057,"y":-0.15},{"m":4,"x":2058,"y":-0.30},{"m":4,"x":2059,"y":-0.45},{"m":4,"x":2060,"y":-0.22},
{"m":4,"x":2061,"y":-0.10},{"m":4,"x":2062,"y":-0.35},{"m":4,"x":2063,"y":-0.25},{"m":4,"x":2064,"y":-0.42},{"m":4,"x":2065,"y":-0.18},
{"m":4,"x":2066,"y":-0.30},{"m":4,"x":2067,"y":-0.15},{"m":4,"x":2068,"y":-0.40},{"m":4,"x":2069,"y":-0.22},{"m":4,"x":2070,"y":-0.35},
{"m":4,"x":2071,"y":-0.20},{"m":4,"x":2072,"y":-0.42},{"m":4,"x":2073,"y":-0.28},{"m":4,"x":2074,"y":-0.12},{"m":4,"x":2075,"y":-0.38},
{"m":4,"x":2076,"y":-0.25},{"m":4,"x":2077,"y":-0.10},{"m":4,"x":2078,"y":-0.35},{"m":4,"x":2079,"y":-0.20},{"m":4,"x":2080,"y":-0.30},
{"m":5,"x":2006,"y":-0.55},{"m":5,"x":2007,"y":-0.40},{"m":5,"x":2008,"y":-0.65},{"m":5,"x":2009,"y":-0.30},{"m":5,"x":2010,"y":-0.50},
{"m":5,"x":2011,"y":-0.62},{"m":5,"x":2012,"y":-0.45},{"m":5,"x":2013,"y":-0.70},{"m":5,"x":2014,"y":-0.38},{"m":5,"x":2015,"y":-0.55},
{"m":5,"x":2016,"y":-0.35},{"m":5,"x":2017,"y":-0.58},{"m":5,"x":2018,"y":-0.42},{"m":5,"x":2019,"y":-0.65},{"m":5,"x":2020,"y":-0.48},
{"m":5,"x":2021,"y":-0.60},{"m":5,"x":2022,"y":-0.35},{"m":5,"x":2023,"y":-0.52},{"m":5,"x":2024,"y":-0.40},{"m":5,"x":2025,"y":-0.70},
{"m":5,"x":2026,"y":-0.45},{"m":5,"x":2027,"y":-0.62},{"m":5,"x":2028,"y":-0.30},{"m":5,"x":2029,"y":-0.55},{"m":5,"x":2030,"y":-0.42},
{"m":5,"x":2031,"y":-0.68},{"m":5,"x":2032,"y":-0.45},{"m":5,"x":2033,"y":-0.58},{"m":5,"x":2034,"y":-0.35},{"m":5,"x":2035,"y":-0.60},
{"m":5,"x":2036,"y":-0.50},{"m":5,"x":2037,"y":-0.38},{"m":5,"x":2038,"y":-0.65},{"m":5,"x":2039,"y":-0.45},{"m":5,"x":2040,"y":-0.55},
{"m":5,"x":2041,"y":-0.42},{"m":5,"x":2042,"y":-0.60},{"m":5,"x":2043,"y":-0.48},{"m":5,"x":2044,"y":-0.70},{"m":5,"x":2045,"y":-0.40},
{"m":5,"x":2046,"y":-0.58},{"m":5,"x":2047,"y":-0.35},{"m":5,"x":2048,"y":-0.62},{"m":5,"x":2049,"y":-0.45},{"m":5,"x":2050,"y":-0.52},
{"m":5,"x":2051,"y":-0.40},{"m":5,"x":2052,"y":-0.65},{"m":5,"x":2053,"y":-0.48},{"m":5,"x":2054,"y":-0.55},{"m":5,"x":2055,"y":-0.35},
{"m":5,"x":2056,"y":-0.62},{"m":5,"x":2057,"y":-0.45},{"m":5,"x":2058,"y":-0.52},{"m":5,"x":2059,"y":-0.38},{"m":5,"x":2060,"y":-0.68},
{"m":5,"x":2061,"y":-0.48},{"m":5,"x":2062,"y":-0.60},{"m":5,"x":2063,"y":-0.35},{"m":5,"x":2064,"y":-0.55},{"m":5,"x":2065,"y":-0.45},
{"m":5,"x":2066,"y":-0.55},{"m":5,"x":2067,"y":-0.40},{"m":5,"x":2068,"y":-0.68},{"m":5,"x":2069,"y":-0.50},{"m":5,"x":2070,"y":-0.38},
{"m":5,"x":2071,"y":-0.65},{"m":5,"x":2072,"y":-0.48},{"m":5,"x":2073,"y":-0.55},{"m":5,"x":2074,"y":-0.42},{"m":5,"x":2075,"y":-0.60},
{"m":5,"x":2076,"y":-0.45},{"m":5,"x":2077,"y":-0.58},{"m":5,"x":2078,"y":-0.40},{"m":5,"x":2079,"y":-0.62},{"m":5,"x":2080,"y":-0.50}
],
"rcp85": [
{"m":1,"x":2006,"y":0.35},{"m":1,"x":2007,"y":0.78},{"m":1,"x":2008,"y":0.28},{"m":1,"x":2009,"y":0.37},{"m":1,"x":2010,"y":0.20},
{"m":1,"x":2011,"y":0.15},{"m":1,"x":2012,"y":0.05},{"m":1,"x":2013,"y":0.35},{"m":1,"x":2014,"y":0.05},{"m":1,"x":2015,"y":0.10},
{"m":1,"x":2016,"y":-0.20},{"m":1,"x":2017,"y":-0.05},{"m":1,"x":2018,"y":-0.25},{"m":1,"x":2019,"y":-0.10},{"m":1,"x":2020,"y":-0.30},
{"m":1,"x":2021,"y":-0.15},{"m":1,"x":2022,"y":-0.35},{"m":1,"x":2023,"y":-0.20},{"m":1,"x":2024,"y":-0.10},{"m":1,"x":2025,"y":-0.30},
{"m":1,"x":2026,"y":-0.05},{"m":1,"x":2027,"y":-0.25},{"m":1,"x":2028,"y":0.20},{"m":1,"x":2029,"y":-0.15},{"m":1,"x":2030,"y":-0.30},
{"m":1,"x":2031,"y":-0.10},{"m":1,"x":2032,"y":-0.20},{"m":1,"x":2033,"y":-0.05},{"m":1,"x":2034,"y":-0.28},{"m":1,"x":2035,"y":-0.15},
{"m":1,"x":2036,"y":-0.30},{"m":1,"x":2037,"y":-0.10},{"m":1,"x":2038,"y":-0.22},{"m":1,"x":2039,"y":-0.05},{"m":1,"x":2040,"y":-0.25},
{"m":1,"x":2041,"y":-0.15},{"m":1,"x":2042,"y":-0.30},{"m":1,"x":2043,"y":0.10},{"m":1,"x":2044,"y":-0.20},{"m":1,"x":2045,"y":-0.35},
{"m":1,"x":2046,"y":0.28},{"m":1,"x":2047,"y":-0.10},{"m":1,"x":2048,"y":-0.25},{"m":1,"x":2049,"y":-0.05},{"m":1,"x":2050,"y":0.10},
{"m":1,"x":2051,"y":-0.20},{"m":1,"x":2052,"y":-0.08},{"m":1,"x":2053,"y":-0.30},{"m":1,"x":2054,"y":-0.15},{"m":1,"x":2055,"y":-0.25},
{"m":1,"x":2056,"y":-0.10},{"m":1,"x":2057,"y":-0.22},{"m":1,"x":2058,"y":-0.05},{"m":1,"x":2059,"y":-0.30},{"m":1,"x":2060,"y":0.00},
{"m":1,"x":2061,"y":-0.25},{"m":1,"x":2062,"y":-0.12},{"m":1,"x":2063,"y":0.15},{"m":1,"x":2064,"y":-0.20},{"m":1,"x":2065,"y":-0.08},
{"m":1,"x":2066,"y":-0.30},{"m":1,"x":2067,"y":0.10},{"m":1,"x":2068,"y":-0.15},{"m":1,"x":2069,"y":-0.05},{"m":1,"x":2070,"y":0.25},
{"m":1,"x":2071,"y":-0.18},{"m":1,"x":2072,"y":-0.05},{"m":1,"x":2073,"y":0.05},{"m":1,"x":2074,"y":-0.25},{"m":1,"x":2075,"y":-0.12},
{"m":1,"x":2076,"y":0.05},{"m":1,"x":2077,"y":-0.20},{"m":1,"x":2078,"y":-0.10},{"m":1,"x":2079,"y":0.00},{"m":1,"x":2080,"y":-0.25},
{"m":2,"x":2006,"y":-0.55},{"m":2,"x":2007,"y":-0.60},{"m":2,"x":2008,"y":-0.75},{"m":2,"x":2009,"y":-0.85},{"m":2,"x":2010,"y":-0.95},
{"m":2,"x":2011,"y":-0.80},{"m":2,"x":2012,"y":-1.00},{"m":2,"x":2013,"y":-0.70},{"m":2,"x":2014,"y":-0.90},{"m":2,"x":2015,"y":-0.65},
{"m":2,"x":2016,"y":-0.85},{"m":2,"x":2017,"y":-0.95},{"m":2,"x":2018,"y":-0.75},{"m":2,"x":2019,"y":-1.00},{"m":2,"x":2020,"y":-0.80},
{"m":2,"x":2021,"y":-0.70},{"m":2,"x":2022,"y":-0.95},{"m":2,"x":2023,"y":-0.85},{"m":2,"x":2024,"y":-0.75},{"m":2,"x":2025,"y":-1.00},
{"m":2,"x":2026,"y":-0.85},{"m":2,"x":2027,"y":-0.75},{"m":2,"x":2028,"y":-0.95},{"m":2,"x":2029,"y":-0.80},{"m":2,"x":2030,"y":-0.90},
{"m":2,"x":2031,"y":-0.75},{"m":2,"x":2032,"y":-1.00},{"m":2,"x":2033,"y":-0.85},{"m":2,"x":2034,"y":-0.95},{"m":2,"x":2035,"y":-0.80},
{"m":2,"x":2036,"y":-1.18},{"m":2,"x":2037,"y":-0.80},{"m":2,"x":2038,"y":-0.90},{"m":2,"x":2039,"y":-1.05},{"m":2,"x":2040,"y":-0.85},
{"m":2,"x":2041,"y":-1.25},{"m":2,"x":2042,"y":-0.95},{"m":2,"x":2043,"y":-1.05},{"m":2,"x":2044,"y":-1.12},{"m":2,"x":2045,"y":-0.90},
{"m":2,"x":2046,"y":-1.00},{"m":2,"x":2047,"y":-1.08},{"m":2,"x":2048,"y":-0.85},{"m":2,"x":2049,"y":-1.00},{"m":2,"x":2050,"y":-1.28},
{"m":2,"x":2051,"y":-0.95},{"m":2,"x":2052,"y":-1.05},{"m":2,"x":2053,"y":-0.90},{"m":2,"x":2054,"y":-1.27},{"m":2,"x":2055,"y":-1.10},
{"m":2,"x":2056,"y":-0.95},{"m":2,"x":2057,"y":-0.85},{"m":2,"x":2058,"y":-1.05},{"m":2,"x":2059,"y":-0.90},{"m":2,"x":2060,"y":-1.43},
{"m":2,"x":2061,"y":-1.05},{"m":2,"x":2062,"y":-0.80},{"m":2,"x":2063,"y":-0.95},{"m":2,"x":2064,"y":-1.15},{"m":2,"x":2065,"y":-1.25},
{"m":2,"x":2066,"y":-1.30},{"m":2,"x":2067,"y":-1.00},{"m":2,"x":2068,"y":-0.85},{"m":2,"x":2069,"y":-0.95},{"m":2,"x":2070,"y":-1.05},
{"m":2,"x":2071,"y":-0.90},{"m":2,"x":2072,"y":-1.10},{"m":2,"x":2073,"y":-0.85},{"m":2,"x":2074,"y":-1.00},{"m":2,"x":2075,"y":-1.15},
{"m":2,"x":2076,"y":-1.20},{"m":2,"x":2077,"y":-0.95},{"m":2,"x":2078,"y":-1.05},{"m":2,"x":2079,"y":-0.90},{"m":2,"x":2080,"y":-1.10},
{"m":3,"x":2006,"y":-0.20},{"m":3,"x":2007,"y":-0.45},{"m":3,"x":2008,"y":-0.10},{"m":3,"x":2009,"y":-0.55},{"m":3,"x":2010,"y":-0.30},
{"m":3,"x":2011,"y":-0.40},{"m":3,"x":2012,"y":-0.25},{"m":3,"x":2013,"y":-0.60},{"m":3,"x":2014,"y":-0.35},{"m":3,"x":2015,"y":-0.15},
{"m":3,"x":2016,"y":-0.50},{"m":3,"x":2017,"y":-0.30},{"m":3,"x":2018,"y":-0.65},{"m":3,"x":2019,"y":-0.40},{"m":3,"x":2020,"y":-0.20},
{"m":3,"x":2021,"y":-0.55},{"m":3,"x":2022,"y":-0.35},{"m":3,"x":2023,"y":-0.20},{"m":3,"x":2024,"y":-0.45},{"m":3,"x":2025,"y":-0.60},
{"m":3,"x":2026,"y":-0.25},{"m":3,"x":2027,"y":-0.50},{"m":3,"x":2028,"y":-0.35},{"m":3,"x":2029,"y":-0.65},{"m":3,"x":2030,"y":-0.40},
{"m":3,"x":2031,"y":-0.30},{"m":3,"x":2032,"y":-0.55},{"m":3,"x":2033,"y":-0.20},{"m":3,"x":2034,"y":-0.45},{"m":3,"x":2035,"y":-0.60},
{"m":3,"x":2036,"y":-0.35},{"m":3,"x":2037,"y":-0.50},{"m":3,"x":2038,"y":-0.25},{"m":3,"x":2039,"y":-0.60},{"m":3,"x":2040,"y":-0.40},
{"m":3,"x":2041,"y":-0.55},{"m":3,"x":2042,"y":-0.30},{"m":3,"x":2043,"y":-0.45},{"m":3,"x":2044,"y":-0.20},{"m":3,"x":2045,"y":-0.50},
{"m":3,"x":2046,"y":-0.40},{"m":3,"x":2047,"y":-0.62},{"m":3,"x":2048,"y":-0.35},{"m":3,"x":2049,"y":-0.50},{"m":3,"x":2050,"y":-0.25},
{"m":3,"x":2051,"y":-0.58},{"m":3,"x":2052,"y":-0.40},{"m":3,"x":2053,"y":-0.30},{"m":3,"x":2054,"y":-0.55},{"m":3,"x":2055,"y":-0.45},
{"m":3,"x":2056,"y":-0.35},{"m":3,"x":2057,"y":-0.60},{"m":3,"x":2058,"y":-0.42},{"m":3,"x":2059,"y":-0.25},{"m":3,"x":2060,"y":-0.50},
{"m":3,"x":2061,"y":-0.45},{"m":3,"x":2062,"y":-0.28},{"m":3,"x":2063,"y":-0.55},{"m":3,"x":2064,"y":-0.38},{"m":3,"x":2065,"y":-0.62},
{"m":3,"x":2066,"y":-0.30},{"m":3,"x":2067,"y":-0.48},{"m":3,"x":2068,"y":-0.25},{"m":3,"x":2069,"y":-0.58},{"m":3,"x":2070,"y":-0.40},
{"m":3,"x":2071,"y":-0.52},{"m":3,"x":2072,"y":-0.35},{"m":3,"x":2073,"y":-0.60},{"m":3,"x":2074,"y":-0.30},{"m":3,"x":2075,"y":-0.45},
{"m":3,"x":2076,"y":-0.28},{"m":3,"x":2077,"y":-0.50},{"m":3,"x":2078,"y":-0.38},{"m":3,"x":2079,"y":-0.55},{"m":3,"x":2080,"y":-0.32},
{"m":4,"x":2006,"y":-0.10},{"m":4,"x":2007,"y":-0.25},{"m":4,"x":2008,"y":0.00},{"m":4,"x":2009,"y":-0.30},{"m":4,"x":2010,"y":-0.15},
{"m":4,"x":2011,"y":-0.05},{"m":4,"x":2012,"y":-0.20},{"m":4,"x":2013,"y":0.35},{"m":4,"x":2014,"y":0.05},{"m":4,"x":2015,"y":-0.15},
{"m":4,"x":2016,"y":-0.25},{"m":4,"x":2017,"y":-0.05},{"m":4,"x":2018,"y":-0.35},{"m":4,"x":2019,"y":-0.15},{"m":4,"x":2020,"y":0.02},
{"m":4,"x":2021,"y":-0.30},{"m":4,"x":2022,"y":-0.10},{"m":4,"x":2023,"y":-0.25},{"m":4,"x":2024,"y":-0.40},{"m":4,"x":2025,"y":-0.15},
{"m":4,"x":2026,"y":-0.20},{"m":4,"x":2027,"y":-0.05},{"m":4,"x":2028,"y":-0.30},{"m":4,"x":2029,"y":0.05},{"m":4,"x":2030,"y":-0.18},
{"m":4,"x":2031,"y":-0.35},{"m":4,"x":2032,"y":-0.12},{"m":4,"x":2033,"y":-0.25},{"m":4,"x":2034,"y":0.00},{"m":4,"x":2035,"y":-0.20},
{"m":4,"x":2036,"y":-0.08},{"m":4,"x":2037,"y":-0.30},{"m":4,"x":2038,"y":-0.15},{"m":4,"x":2039,"y":-0.25},{"m":4,"x":2040,"y":-0.05},
{"m":4,"x":2041,"y":-0.22},{"m":4,"x":2042,"y":-0.35},{"m":4,"x":2043,"y":-0.10},{"m":4,"x":2044,"y":0.05},{"m":4,"x":2045,"y":-0.25},
{"m":4,"x":2046,"y":0.25},{"m":4,"x":2047,"y":-0.15},{"m":4,"x":2048,"y":-0.30},{"m":4,"x":2049,"y":-0.05},{"m":4,"x":2050,"y":-0.20},
{"m":4,"x":2051,"y":-0.10},{"m":4,"x":2052,"y":-0.28},{"m":4,"x":2053,"y":-0.15},{"m":4,"x":2054,"y":0.05},{"m":4,"x":2055,"y":-0.22},
{"m":4,"x":2056,"y":-0.30},{"m":4,"x":2057,"y":-0.05},{"m":4,"x":2058,"y":-0.20},{"m":4,"x":2059,"y":0.02},{"m":4,"x":2060,"y":-0.15},
{"m":4,"x":2061,"y":-0.22},{"m":4,"x":2062,"y":0.05},{"m":4,"x":2063,"y":-0.10},{"m":4,"x":2064,"y":-0.30},{"m":4,"x":2065,"y":0.10},
{"m":4,"x":2066,"y":0.15},{"m":4,"x":2067,"y":-0.18},{"m":4,"x":2068,"y":-0.05},{"m":4,"x":2069,"y":0.25},{"m":4,"x":2070,"y":-0.12},
{"m":4,"x":2071,"y":-0.20},{"m":4,"x":2072,"y":0.00},{"m":4,"x":2073,"y":-0.25},{"m":4,"x":2074,"y":-0.08},{"m":4,"x":2075,"y":-0.30},
{"m":4,"x":2076,"y":-0.15},{"m":4,"x":2077,"y":0.10},{"m":4,"x":2078,"y":-0.05},{"m":4,"x":2079,"y":-0.20},{"m":4,"x":2080,"y":0.05},
{"m":5,"x":2006,"y":-0.60},{"m":5,"x":2007,"y":-0.45},{"m":5,"x":2008,"y":-0.70},{"m":5,"x":2009,"y":-0.50},{"m":5,"x":2010,"y":-0.65},
{"m":5,"x":2011,"y":-0.75},{"m":5,"x":2012,"y":-0.55},{"m":5,"x":2013,"y":-0.40},{"m":5,"x":2014,"y":-0.62},{"m":5,"x":2015,"y":-0.80},
{"m":5,"x":2016,"y":-0.50},{"m":5,"x":2017,"y":-0.72},{"m":5,"x":2018,"y":-0.55},{"m":5,"x":2019,"y":-0.40},{"m":5,"x":2020,"y":-0.65},
{"m":5,"x":2021,"y":-0.58},{"m":5,"x":2022,"y":-0.75},{"m":5,"x":2023,"y":-0.45},{"m":5,"x":2024,"y":-0.62},{"m":5,"x":2025,"y":-0.85},
{"m":5,"x":2026,"y":-0.52},{"m":5,"x":2027,"y":-0.70},{"m":5,"x":2028,"y":-0.60},{"m":5,"x":2029,"y":-0.42},{"m":5,"x":2030,"y":-0.68},
{"m":5,"x":2031,"y":-0.75},{"m":5,"x":2032,"y":-0.55},{"m":5,"x":2033,"y":-0.82},{"m":5,"x":2034,"y":-0.60},{"m":5,"x":2035,"y":-0.48},
{"m":5,"x":2036,"y":-0.65},{"m":5,"x":2037,"y":-0.50},{"m":5,"x":2038,"y":-0.72},{"m":5,"x":2039,"y":-0.58},{"m":5,"x":2040,"y":-0.80},
{"m":5,"x":2041,"y":-0.55},{"m":5,"x":2042,"y":-0.78},{"m":5,"x":2043,"y":-0.62},{"m":5,"x":2044,"y":-0.45},{"m":5,"x":2045,"y":-0.70},
{"m":5,"x":2046,"y":-0.60},{"m":5,"x":2047,"y":-0.85},{"m":5,"x":2048,"y":-0.52},{"m":5,"x":2049,"y":-0.68},{"m":5,"x":2050,"y":-0.75},
{"m":5,"x":2051,"y":-0.50},{"m":5,"x":2052,"y":-0.72},{"m":5,"x":2053,"y":-0.58},{"m":5,"x":2054,"y":-0.80},{"m":5,"x":2055,"y":-0.62},
{"m":5,"x":2056,"y":-0.70},{"m":5,"x":2057,"y":-0.55},{"m":5,"x":2058,"y":-0.78},{"m":5,"x":2059,"y":-0.62},{"m":5,"x":2060,"y":-0.85},
{"m":5,"x":2061,"y":-0.58},{"m":5,"x":2062,"y":-0.72},{"m":5,"x":2063,"y":-0.50},{"m":5,"x":2064,"y":-0.65},{"m":5,"x":2065,"y":-0.90},
{"m":5,"x":2066,"y":-0.75},{"m":5,"x":2067,"y":-0.60},{"m":5,"x":2068,"y":-0.82},{"m":5,"x":2069,"y":-0.55},{"m":5,"x":2070,"y":-0.70},
{"m":5,"x":2071,"y":-0.62},{"m":5,"x":2072,"y":-0.80},{"m":5,"x":2073,"y":-0.55},{"m":5,"x":2074,"y":-0.72},{"m":5,"x":2075,"y":-0.60},
{"m":5,"x":2076,"y":-0.78},{"m":5,"x":2077,"y":-0.58},{"m":5,"x":2078,"y":-0.70},{"m":5,"x":2079,"y":-0.85},{"m":5,"x":2080,"y":-0.65},
{"m":6,"x":2006,"y":-0.30},{"m":6,"x":2007,"y":-0.15},{"m":6,"x":2008,"y":-0.40},{"m":6,"x":2009,"y":-0.20},{"m":6,"x":2010,"y":-0.05},
{"m":6,"x":2011,"y":-0.25},{"m":6,"x":2012,"y":-0.45},{"m":6,"x":2013,"y":-0.15},{"m":6,"x":2014,"y":-0.35},{"m":6,"x":2015,"y":-0.20},
{"m":6,"x":2016,"y":-0.40},{"m":6,"x":2017,"y":-0.10},{"m":6,"x":2018,"y":-0.30},{"m":6,"x":2019,"y":-0.50},{"m":6,"x":2020,"y":-0.25},
{"m":6,"x":2021,"y":-0.35},{"m":6,"x":2022,"y":-0.20},{"m":6,"x":2023,"y":-0.45},{"m":6,"x":2024,"y":-0.15},{"m":6,"x":2025,"y":-0.30},
{"m":6,"x":2026,"y":-0.10},{"m":6,"x":2027,"y":-0.40},{"m":6,"x":2028,"y":-0.25},{"m":6,"x":2029,"y":-0.35},{"m":6,"x":2030,"y":-0.50},
{"m":6,"x":2031,"y":-0.20},{"m":6,"x":2032,"y":-0.30},{"m":6,"x":2033,"y":-0.45},{"m":6,"x":2034,"y":-0.15},{"m":6,"x":2035,"y":-0.35},
{"m":6,"x":2036,"y":-0.45},{"m":6,"x":2037,"y":-0.25},{"m":6,"x":2038,"y":-0.10},{"m":6,"x":2039,"y":-0.38},{"m":6,"x":2040,"y":-0.20},
{"m":6,"x":2041,"y":-0.30},{"m":6,"x":2042,"y":-0.45},{"m":6,"x":2043,"y":-0.20},{"m":6,"x":2044,"y":-0.35},{"m":6,"x":2045,"y":-0.10},
{"m":6,"x":2046,"y":-0.40},{"m":6,"x":2047,"y":-0.25},{"m":6,"x":2048,"y":-0.50},{"m":6,"x":2049,"y":-0.30},{"m":6,"x":2050,"y":-0.15},
{"m":6,"x":2051,"y":-0.35},{"m":6,"x":2052,"y":-0.20},{"m":6,"x":2053,"y":-0.42},{"m":6,"x":2054,"y":-0.28},{"m":6,"x":2055,"y":-0.45},
{"m":6,"x":2056,"y":-0.15},{"m":6,"x":2057,"y":-0.38},{"m":6,"x":2058,"y":-0.25},{"m":6,"x":2059,"y":-0.10},{"m":6,"x":2060,"y":-0.40},
{"m":6,"x":2061,"y":-0.30},{"m":6,"x":2062,"y":-0.45},{"m":6,"x":2063,"y":-0.20},{"m":6,"x":2064,"y":-0.35},{"m":6,"x":2065,"y":-0.25},
{"m":6,"x":2066,"y":-0.40},{"m":6,"x":2067,"y":-0.15},{"m":6,"x":2068,"y":-0.32},{"m":6,"x":2069,"y":-0.05},{"m":6,"x":2070,"y":-0.30},
{"m":6,"x":2071,"y":-0.20},{"m":6,"x":2072,"y":-0.35},{"m":6,"x":2073,"y":-0.45},{"m":6,"x":2074,"y":-0.15},{"m":6,"x":2075,"y":-0.30},
{"m":6,"x":2076,"y":-0.10},{"m":6,"x":2077,"y":-0.25},{"m":6,"x":2078,"y":-0.40},{"m":6,"x":2079,"y":0.05},{"m":6,"x":2080,"y":0.42}
]
},
"layer": [
{
"data": {"name": "rcp26"},
"mark": {"type": "line", "strokeWidth": 2.7, "clip": true},
"encoding": {
"x": {"field": "x", "type": "quantitative", "scale": {"domain": [2006, 2080], "nice": false, "zero": false},
"axis": {"orient": "bottom", "values": [2010, 2020, 2030, 2040, 2050, 2060, 2070, 2080], "labelExpr": "'' + datum.value", "labelFlush": false, "tickSize": -15, "labelPadding": 32, "labelBaseline": "top", "title": null}},
"y": {"field": "y", "type": "quantitative", "scale": {"domain": [-2, 1], "nice": false, "zero": false},
"axis": {"orient": "left", "values": [-2, -1.5, -1, -0.5, 0, 0.5, 1], "labelExpr": "'' + datum.value", "labelFlush": false, "tickSize": -15, "labelPadding": 37,
"title": ["average CO₂ flux", "(mol m⁻² yr⁻¹)"], "titleFont": "Lato", "titleFontSize": 50, "titleFontWeight": "normal", "titleColor": "black", "titleLineHeight": 70, "titleAngle": 270, "titleAlign": "center", "titleBaseline": "middle", "titleX": -223, "titleY": 279}},
"detail": {"field": "m"},
"color": {"datum": "RCP2.6", "type": "nominal", "scale": {"domain": ["RCP2.6", "RCP4.5", "RCP6.0", "RCP8.5"], "range": ["#efe41e", "#6ccbde", "#6cbd47", "#ee6c9c"]}, "legend": {"title": null}}
}
},
{
"data": {"name": "rcp45"},
"mark": {"type": "line", "strokeWidth": 2.7, "clip": true},
"encoding": {
"x": {"field": "x", "type": "quantitative", "axis": null},
"y": {"field": "y", "type": "quantitative", "axis": null},
"detail": {"field": "m"},
"color": {"datum": "RCP4.5", "type": "nominal", "legend": {"title": null}}
}
},
{
"data": {"name": "rcp60"},
"mark": {"type": "line", "strokeWidth": 2.7, "clip": true},
"encoding": {
"x": {"field": "x", "type": "quantitative", "axis": null},
"y": {"field": "y", "type": "quantitative", "axis": null},
"detail": {"field": "m"},
"color": {"datum": "RCP6.0", "type": "nominal", "legend": {"title": null}}
}
},
{
"data": {"name": "rcp85"},
"mark": {"type": "line", "strokeWidth": 2.7, "clip": true},
"encoding": {
"x": {"field": "x", "type": "quantitative", "axis": {"orient": "top", "values": [2010, 2020, 2030, 2040, 2050, 2060, 2070, 2080], "labels": false, "tickSize": -15, "title": null}},
"y": {"field": "y", "type": "quantitative", "axis": {"orient": "right", "values": [-2, -1.5, -1, -0.5, 0, 0.5, 1], "labels": false, "tickSize": -15, "title": null}},
"detail": {"field": "m"},
"color": {"datum": "RCP8.5", "type": "nominal", "legend": {"title": null}}
}
}
],
"resolve": {"axis": {"x": "independent", "y": "independent"}},
"config": {
"view": {"stroke": "#555555", "strokeWidth": 3},
"axis": {"grid": false, "domain": false, "tickColor": "#555555", "tickWidth": 2.5, "labelColor": "#555555", "labelFont": "Lato", "labelFontSize": 43},
"legend": {"orient": "none", "legendX": 42, "legendY": 487, "direction": "vertical", "symbolType": "M-3.4,0H3.4", "symbolSize": 1225, "symbolStrokeWidth": 5, "symbolOffset": 40.5, "labelFont": "Open Sans", "labelFontSize": 41, "labelColor": "black", "labelOffset": 60, "padding": 18.5, "rowPadding": 17, "strokeColor": "black", "strokeWidth": 2.5, "fillColor": "white", "cornerRadius": 0}
}
}
